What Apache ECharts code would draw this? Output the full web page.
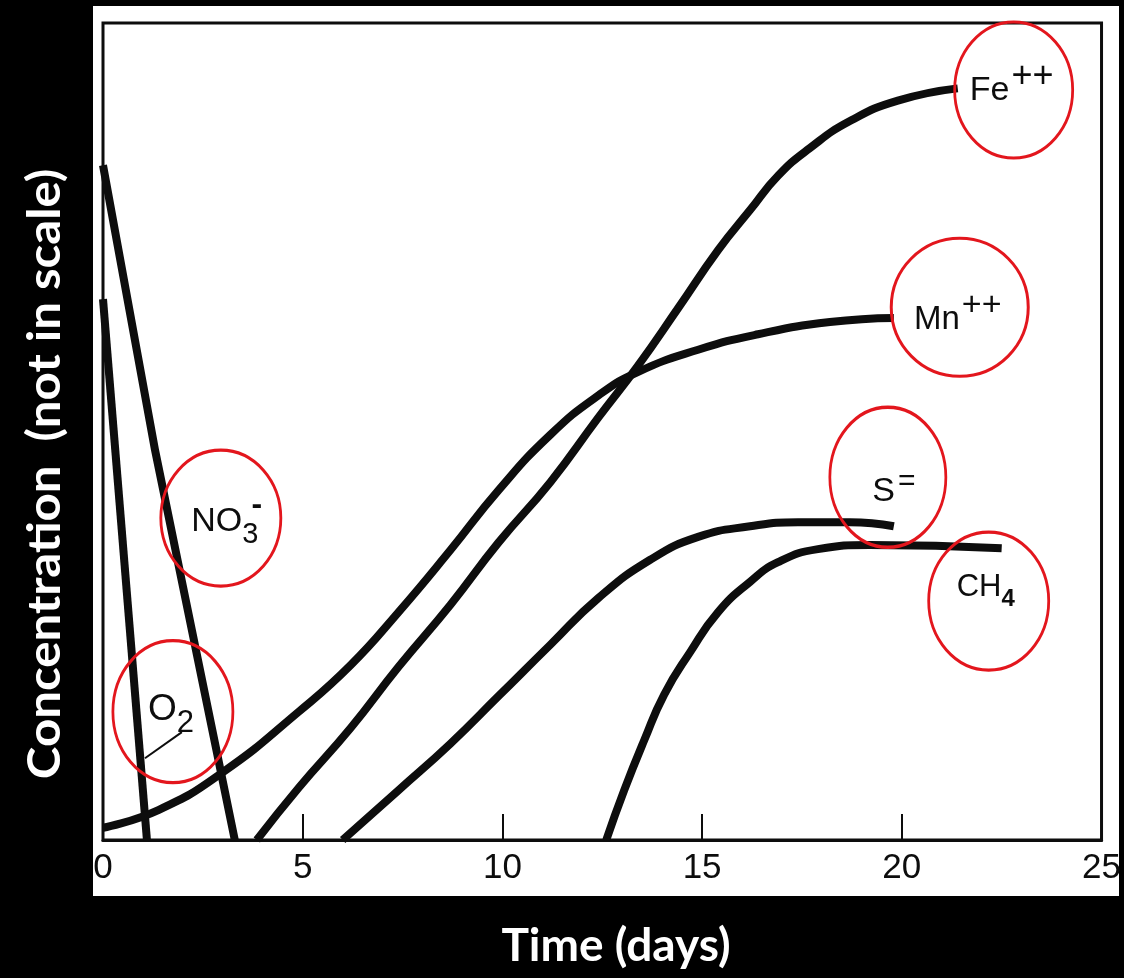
<!DOCTYPE html>
<html><head><meta charset="utf-8">
<script src="https://cdn.jsdelivr.net/npm/echarts@6/dist/echarts.min.js"></script>
<style>html,body{margin:0;padding:0;background:#000;}#c{width:1124px;height:978px;}</style>
</head><body><div id="c"></div>
<script>
// ---- data (time in days, concentration in arbitrary units: "not in scale") ----
const o2Days = [0, 1.1];
const o2Conc = [66.2, 0];
const no3Days = [0, 1.3, 3.3];
const no3Conc = [82.6, 47.8, 0];
const mnDays = [0, 1.4, 3.0, 4.9, 6.2, 7.4, 8.7, 9.9, 11.2, 12.4, 13.4, 14.9, 16.4, 18.2, 19.8];
const mnConc = [1.5, 3.7, 8.3, 15.7, 21.4, 27.9, 35.5, 42.8, 49.6, 54.4, 57.3, 60.0, 61.9, 63.4, 63.9];
const feDays = [3.85, 4.9, 6.2, 7.4, 8.7, 9.9, 11.2, 12.4, 13.4, 14.4, 15.4, 16.2, 16.9, 17.7, 18.7, 19.9, 21.4];
const feConc = [0, 6.4, 13.7, 21.2, 28.8, 36.4, 43.8, 51.7, 58.1, 65.1, 72.2, 77.1, 81.3, 84.7, 88.0, 90.5, 92.0];
const sDays = [6.0, 7.4, 8.7, 9.9, 11.2, 12.4, 13.7, 14.9, 16.2, 17.4, 18.7, 19.8];
const sConc = [0, 6.1, 11.8, 17.6, 23.9, 29.6, 34.3, 37.1, 38.4, 38.9, 38.9, 38.4];
const ch4Days = [12.6, 13.05, 13.55, 14.05, 14.7, 15.4, 16.2, 16.9, 17.9, 19.2, 22.5];
const ch4Conc = [0, 6.1, 12.2, 17.8, 23.0, 27.9, 31.6, 34.0, 35.6, 36.1, 35.7];
const xTickLabels = ['0', '5', '10', '15', '20', '25'];
const xTitle = 'Time (days)';
const yTitle = 'Concentration  (not in scale)';

// ---- styling ----
const INK = '#0d0d0d';
const RED = '#e3161d';
const FONT = 'Liberation Sans';

function zip(d, c) { return d.map((x, i) => [x, c[i]]); }
function circle(coord, size) {
  return { coord: coord, symbol: 'circle', symbolSize: size,
    itemStyle: { color: 'rgba(0,0,0,0)', borderColor: RED, borderWidth: 3 },
    label: { show: false } };
}
function text(coord, fmt, rich) {
  return { coord: coord, symbol: 'circle', symbolSize: 1,
    itemStyle: { color: 'rgba(0,0,0,0)' },
    label: { show: true, position: 'inside', formatter: fmt, color: INK,
      textBorderWidth: 0, fontFamily: FONT, rich: rich } };
}
function tok(size, lh, va, extra) {
  return Object.assign({ fontSize: size, lineHeight: lh, verticalAlign: va, color: INK,
    fontFamily: FONT, textBorderWidth: 0 }, extra || {});
}
function series(name, d, c, smooth, marks, markLine) {
  const s = { type: 'line', name: name, data: zip(d, c), symbol: 'none', showSymbol: false,
    smooth: smooth, clip: true, z: 3,
    lineStyle: { color: INK, width: 8, cap: 'butt', join: 'round' },
    markPoint: { silent: true, animation: false, data: marks } };
  if (markLine) s.markLine = markLine;
  return s;
}

const chart = echarts.init(document.getElementById('c'));
chart.setOption({
  animation: false,
  backgroundColor: '#000',
  graphic: [
    { type: 'rect', z: -100, shape: { x: 93, y: 6, width: 1026, height: 890 }, style: { fill: '#fff' } },
    { type: 'text', x: 616, y: 946, z: 10,
      style: { text: xTitle, fill: '#fff', fontSize: 46, fontWeight: 'bold', fontFamily: 'Lato',
        align: 'center', verticalAlign: 'middle' } },
    { type: 'text', x: 45, y: 474, rotation: Math.PI / 2, scaleX: 1.07, z: 10,
      style: { text: yTitle, fill: '#fff', fontSize: 46, fontWeight: 'bold', fontFamily: 'Lato',
        align: 'center', verticalAlign: 'middle' } }
  ],
  grid: { left: 103, right: 21, top: 23, bottom: 138, show: true, borderColor: INK, borderWidth: 3,
    backgroundColor: '#fff' },
  xAxis: {
    type: 'value', min: 0, max: 25, interval: 5,
    axisLine: { show: true, lineStyle: { color: INK, width: 3 } },
    axisTick: { show: true, inside: true, length: 26, lineStyle: { color: INK, width: 2 } },
    axisLabel: { show: true, margin: 11, fontSize: 35, fontFamily: FONT, color: INK,
      formatter: v => xTickLabels[xTickLabels.indexOf(String(v))] },
    splitLine: { show: false }
  },
  yAxis: {
    type: 'value', min: 0, max: 100,
    axisLine: { show: false }, axisTick: { show: false }, axisLabel: { show: false },
    splitLine: { show: false }
  },
  series: [
    series('O2', o2Days, o2Conc, false, [
      circle([1.75, 15.7], [120, 142]),
      text([1.7, 15.3], '{b|O}{s|2}', { b: tok(37, 48, 'top'), s: tok(31, 31, 'bottom') })
    ], { symbol: ['none', 'none'], silent: true, animation: false,
         lineStyle: { type: 'solid', color: INK, width: 2 }, label: { show: false },
         data: [[{ coord: [1.05, 10.0] }, { coord: [1.975, 13.2] }]] }),
    series('NO3-', no3Days, no3Conc, false, [
      circle([2.95, 39.4], [120, 136]),
      text([3.05, 38.3], '{b|NO}{s|3}', { b: tok(34, 44, 'top'), s: tok(29, 29, 'bottom') }),
      text([3.85, 41.0], '{m|-}', { m: tok(32, 32, 'middle', { fontWeight: 'bold' }) })
    ]),
    series('Mn++', mnDays, mnConc, 0.5, [
      circle([21.45, 65.2], [137, 138]),
      text([21.4, 64.6], '{b|Mn}{p|++}', { b: tok(33, 48, 'bottom'), p: tok(34, 34, 'top', { padding: [0, 0, 0, 2] }) })
    ]),
    series('Fe++', feDays, feConc, 0.5, [
      circle([22.8, 91.8], [118, 136]),
      text([22.75, 92.6], '{b|Fe}{p|++}', { b: tok(34, 49, 'bottom'), p: tok(36, 36, 'top', { padding: [0, 0, 0, 2] }) })
    ]),
    series('S=', sDays, sConc, 0.5, [
      circle([19.65, 44.4], [116, 140]),
      text([19.8, 43.1], '{b|S}{p|=}', { b: tok(34, 42, 'bottom'), p: tok(30, 30, 'top', { padding: [0, 0, 0, 3] }) })
    ]),
    series('CH4', ch4Days, ch4Conc, 0.5, [
      circle([22.175, 29.25], [120, 138]),
      text([22.1, 30.4], '{b|CH}{s|4}', { b: tok(31, 40, 'top'), s: tok(24, 24, 'bottom', { fontWeight: 'bold' }) })
    ])
  ]
});
</script>
</body></html>
